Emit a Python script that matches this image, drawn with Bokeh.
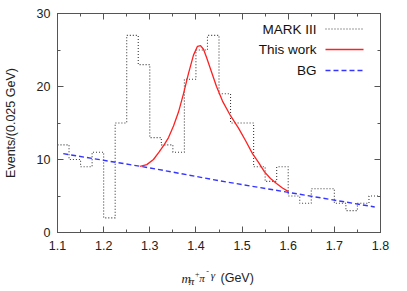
from bokeh.plotting import figure
from bokeh.models import LinearAxis, Range1d, Label, Arrow, SingleIntervalTicker
from bokeh.embed import file_html
from bokeh.resources import INLINE

# ---- data ----
bin_edges = [1.100, 1.125, 1.150, 1.175, 1.200, 1.225, 1.250, 1.275, 1.300, 1.325,
             1.350, 1.375, 1.400, 1.425, 1.450, 1.475, 1.500, 1.525, 1.550, 1.575,
             1.600, 1.625, 1.650, 1.675, 1.700, 1.725, 1.750, 1.775, 1.800]
mark3_counts = [12, 10, 9, 11, 2, 15, 27, 23, 13, 12,
                11, 21, 25, 27, 19, 15, 15, 9, 7, 9,
                5, 4, 6, 6, 4, 3, 4, 5]

fit_x = [1.279, 1.2935, 1.308, 1.320, 1.332, 1.3406, 1.3514, 1.3622, 1.373, 1.3839,
         1.3947, 1.4034, 1.410, 1.4164, 1.4229, 1.4316, 1.4446, 1.4576, 1.4749, 1.4923,
         1.5074, 1.5226, 1.5356, 1.5486, 1.5616, 1.5746, 1.5876, 1.6006]
fit_y = [9.05, 9.3, 10.0, 11.0, 12.1, 13.0, 14.6, 16.5, 19.0, 21.8,
         24.3, 25.5, 25.6, 25.1, 24.0, 22.4, 20.0, 18.0, 16.0, 14.3,
         12.6, 10.8, 9.6, 8.3, 7.4, 6.7, 6.1, 5.6]

bg_x = [1.1125, 1.300, 1.450, 1.600, 1.7875]
bg_y = [10.8, 8.85, 7.1, 5.5, 3.5]

legend_labels = ["MARK III", "This work", "BG"]
y_label = "Events/(0.025 GeV)"

# ---- styles ----
HIST_COLOR = "#3a3a3a"
FIT_COLOR = "#ff2020"
BG_COLOR = "#3535ff"
AXIS_COLOR = "#555555"
TEXT_COLOR = "#222222"
FONT = "Liberation Sans"
SERIF = "Liberation Serif"

p = figure(width=391, height=291, output_backend="svg", toolbar_location=None,
           x_range=Range1d(1.1, 1.8), y_range=Range1d(0, 30),
           min_border_left=51, min_border_right=17, min_border_top=13, min_border_bottom=59,
           x_axis_location=None, y_axis_location=None)
p.frame_width = 323
p.frame_height = 219
p.grid.visible = False
p.outline_line_color = AXIS_COLOR
p.outline_line_width = 1
p.background_fill_color = "white"
p.border_fill_color = "white"


def make_axis(kind, side):
    ax = LinearAxis()
    if kind == "x":
        ax.ticker = SingleIntervalTicker(interval=0.1, num_minor_ticks=2)
    else:
        ax.ticker = SingleIntervalTicker(interval=10, num_minor_ticks=2)
    ax.axis_line_color = AXIS_COLOR
    ax.major_tick_line_color = AXIS_COLOR
    ax.minor_tick_line_color = AXIS_COLOR
    ax.major_tick_in = 6
    ax.major_tick_out = 0
    ax.minor_tick_in = 3
    ax.minor_tick_out = 0
    ax.major_label_text_font = FONT
    ax.major_label_text_font_size = "12.5px"
    ax.major_label_text_color = TEXT_COLOR
    if side in ("above", "right"):
        ax.major_label_text_font_size = "1px"
        ax.major_label_text_alpha = 0
        ax.major_label_text_color = None
        ax.major_label_standoff = 0
    p.add_layout(ax, side)
    return ax


xb = make_axis("x", "below")
xb.major_label_standoff = 8
yl = make_axis("y", "left")
yl.major_label_standoff = 7
yl.axis_label = y_label
yl.axis_label_text_font = FONT
yl.axis_label_text_font_size = "12.5px"
yl.axis_label_text_font_style = "normal"
yl.axis_label_text_color = TEXT_COLOR
yl.axis_label_standoff = 16
make_axis("x", "above")
make_axis("y", "right")

# histogram (MARK III)
step_x = list(bin_edges)
step_y = list(mark3_counts) + [mark3_counts[-1]]
p.step(step_x, step_y, mode="after", line_color=HIST_COLOR, line_width=1.1, line_dash="1 2")

# background and fit
p.line(bg_x, bg_y, line_color=BG_COLOR, line_width=1.4, line_dash="5 3")
p.line(fit_x, fit_y, line_color=FIT_COLOR, line_width=1.3)

# x axis label "m_{pi+ pi- gamma} (GeV)" built from pieces placed in the bottom
# side panel (each piece gets its own stacked slot; y offsets bring them to one line)
# (text, x in data units, y offset in px, font, style, size)
x_label_pieces = [
    ("m", 1.3690, -11.3, SERIF, "italic", "13px"),
    ("(GeV)", 1.4533, 3.9, FONT, "normal", "12.5px"),
    ("π", 1.3846, 12.6, SERIF, "italic", "11px"),
    ("+", 1.3980, 25.5, SERIF, "normal", "8px"),
    ("π", 1.4071, 33.7, SERIF, "italic", "11px"),
    ("-", 1.4225, 46.6, SERIF, "normal", "8px"),
    ("γ", 1.4323, 54.8, SERIF, "italic", "11px"),
]
for txt, xx, yy, fnt, sty, sz in x_label_pieces:
    p.add_layout(Label(x=xx, y=yy, y_units="screen", text=txt,
                       text_baseline="alphabetic", text_font=fnt,
                       text_font_style=sty, text_font_size=sz,
                       text_color=TEXT_COLOR), "below")

# legend (text on the left, sample on the right)
leg_styles = [(HIST_COLOR, "1 2", 1.1), (FIT_COLOR, "solid", 1.3), (BG_COLOR, "5 3", 1.4)]
leg_y = [203.5, 183, 162]
for lab, (col, dash, lw), yy in zip(legend_labels, leg_styles, leg_y):
    p.add_layout(Label(x=259, y=yy, x_units="screen", y_units="screen", text=lab,
                       text_align="right", text_baseline="middle",
                       text_font=FONT, text_font_size="13.5px", text_color="#111111"))
    p.add_layout(Arrow(start=None, end=None, x_start=268, x_end=306, y_start=yy, y_end=yy,
                       start_units="screen", end_units="screen",
                       line_color=col, line_dash=dash, line_width=lw))

open("out.html", "w").write(file_html(p, INLINE))
